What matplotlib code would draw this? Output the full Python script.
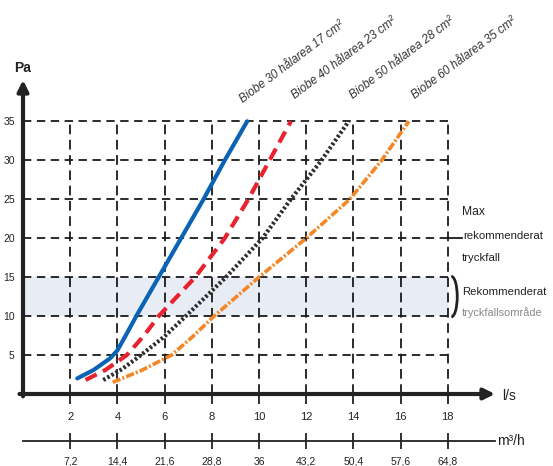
import matplotlib
matplotlib.use("Agg")
import matplotlib.pyplot as plt
from matplotlib.patches import Arc

plt.rcParams['lines.scale_dashes'] = False
FONT = ['Liberation Sans', 'DejaVu Sans']
plt.rcParams['font.family'] = FONT

# ---- data ----
ls_ticks = [2, 4, 6, 8, 10, 12, 14, 16, 18]
m3h_labels = ["7,2", "14,4", "21,6", "28,8", "36", "43,2", "50,4", "57,6", "64,8"]
pa_ticks = [5, 10, 15, 20, 25, 30, 35]

blue_x = [2.3, 3.0, 3.7, 4.0, 4.35, 4.8, 5.75, 6.7, 7.65, 8.55, 9.5]
blue_y = [2.0, 3.1, 4.6, 5.6, 7.5, 10, 15, 20, 25, 30, 35]
red_x = [2.65, 3.5, 4.4, 5.1, 5.75, 7.3, 8.55, 9.55, 10.45, 11.35]
red_y = [1.8, 3.1, 5, 7.4, 10, 15, 20, 25, 30, 35]
black_x = [3.4, 4.2, 5.0, 6.0, 6.9, 8.6, 10.15, 11.35, 12.65, 13.8]
black_y = [1.8, 3.2, 5, 7.4, 10, 15, 20, 25, 30, 35]
orange_x = [3.8, 5.0, 6.3, 7.2, 8.1, 10.0, 12.0, 13.85, 15.2, 16.35]
orange_y = [1.5, 3.0, 5, 7.4, 10, 15, 20, 25, 30, 35]

series_labels = ["Biobe 30 hålarea 17 cm²", "Biobe 40 hålarea 23 cm²",
                 "Biobe 50 hålarea 28 cm²", "Biobe 60 hålarea 35 cm²"]
label_pos = [(9.4, 37.0), (11.6, 37.6), (14.05, 37.6), (16.7, 37.6)]

band = (10, 15)
max_pa = 20

W, H = 553, 466
fig = plt.figure(figsize=(W / 100, H / 100), dpi=100)
x0px, x1px = 23, 495
y0px, y1px = 394, 80
ax = fig.add_axes([x0px / W, (H - y0px) / H, (x1px - x0px) / W, (y0px - y1px) / H])
ax.set_xlim(0, 20)
ax.set_ylim(0, 40.3)
for s in ax.spines.values():
    s.set_visible(False)
ax.patch.set_visible(False)

# band
ax.fill_between([0, 18], band[0], band[1], color='#e8ecf5', lw=0, zorder=0)

# grid
gkw = dict(color='#1a1a1a', lw=1.3, zorder=1)
for y in pa_ticks:
    ln, = ax.plot([0, 18], [y, y], **gkw)
    ln.set_dashes((6, 4))
for x in ls_ticks:
    ln, = ax.plot([x, x], [0, 35], **gkw)
    ln.set_dashes((7, 4))
ax.plot([18, 18.6], [max_pa, max_pa], color='#1a1a1a', lw=1.3, zorder=1)

# curves
ax.plot(blue_x, blue_y, color='#0b63b5', lw=3.0, solid_capstyle='round',
        solid_joinstyle='round', zorder=4)
l, = ax.plot(red_x, red_y, color='#e8222e', lw=3.0, zorder=4)
l.set_dashes((9, 5))
l, = ax.plot(black_x, black_y, color='#2e2e2e', lw=3.0, zorder=4)
l.set_dashes((1.8, 1.6))
l, = ax.plot(orange_x, orange_y, color='#f58626', lw=2.6, zorder=4)
l.set_dashes((6, 1.5, 1.5, 1.5))

for txt, (x, y) in zip(series_labels, label_pos):
    ax.text(x, y, txt, rotation=37, rotation_mode='anchor', ha='left', va='bottom',
            fontsize=8.5, style='italic', color='#333333')

# axes with arrows
akw = dict(arrowstyle='-|>', lw=3.0, color='#222222', mutation_scale=16,
           shrinkA=0, shrinkB=0)
ax.annotate('', xy=(0, 40.3), xytext=(0, -0.3), arrowprops=akw, annotation_clip=False, zorder=5)
ax.annotate('', xy=(20, 0), xytext=(-0.15, 0), arrowprops=akw, annotation_clip=False, zorder=5)

# ticks
ax.set_xticks(ls_ticks)
ax.set_xticklabels([str(t) for t in ls_ticks])
ax.set_yticks(pa_ticks)
ax.set_yticklabels([str(t) for t in pa_ticks])
ax.tick_params(axis='x', direction='out', length=7, width=1.3, pad=6,
               labelsize=8, colors='#222222')
ax.tick_params(axis='y', length=0, pad=6, labelsize=7.5, colors='#222222')

sec = ax.secondary_xaxis(-47 / 314, functions=(lambda v: v * 3.6, lambda v: v / 3.6))
sec.set_xticks([t * 3.6 for t in ls_ticks])
sec.set_xticklabels(m3h_labels)
sec.tick_params(axis='x', direction='inout', length=11, width=1.3, pad=6,
                labelsize=7.5, colors='#222222')
sec.spines['bottom'].set_linewidth(1.3)
sec.spines['bottom'].set_color('#222222')

# axis titles
ax.text(0.0, 41.0, 'Pa', ha='center', va='bottom', fontsize=10, fontweight='bold',
        color='#222222', clip_on=False)
ax.text(20.3, -0.3, 'l/s', ha='left', va='center', fontsize=10, color='#222222', clip_on=False)
ax.text(20.1, -6.0, 'm³/h', ha='left', va='center', fontsize=10, color='#222222', clip_on=False)

# annotations right
fs = 8.2
ax.text(18.6, 23.3, 'Max', ha='left', va='center', fontsize=fs + 0.5, color='#222222')
ax.text(18.65, 20.3, 'rekommenderat', ha='left', va='center', fontsize=fs, color='#222222')
ax.text(18.6, 17.5, 'tryckfall', ha='left', va='center', fontsize=fs, color='#222222')
ax.add_patch(Arc((18.15, 12.5), 0.5, 5.2, theta1=-90, theta2=90, lw=2.0,
                 color='#222222', clip_on=False))
ax.text(18.6, 13.1, 'Rekommenderat', ha='left', va='center', fontsize=fs, color='#222222')
ax.text(18.6, 10.5, 'tryckfallsområde', ha='left', va='center', fontsize=fs - 0.3,
        color='#8a8a8a')

fig.savefig('out.png', dpi=100)
